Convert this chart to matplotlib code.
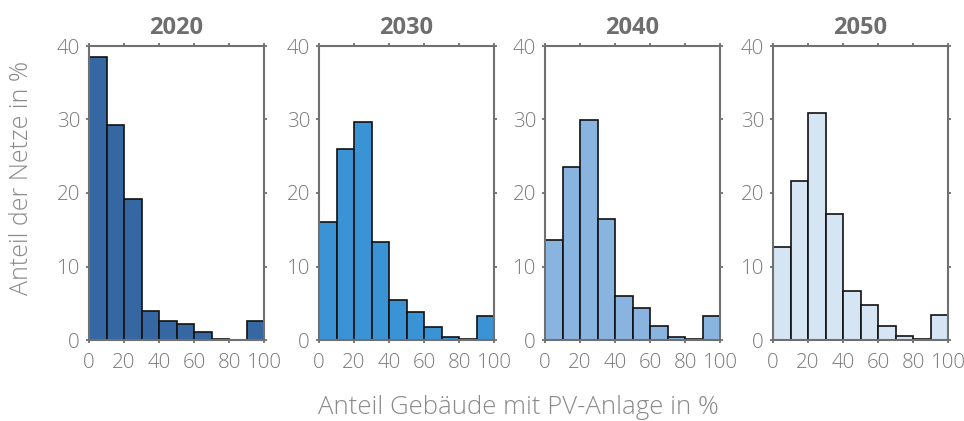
import numpy as np
import matplotlib.pyplot as plt

plt.rcParams['font.family'] = ['Open Sans', 'DejaVu Sans']

# bin edges of the histograms (Anteil Gebäude mit PV-Anlage in %)
bin_edges = np.arange(0, 101, 10)

years = ['2020', '2030', '2040', '2050']
share_2020 = [38.5, 29.2, 19.2, 4.0, 2.6, 2.2, 1.1, 0.2, 0.0, 2.6]
share_2030 = [16.0, 26.0, 29.6, 13.3, 5.5, 3.8, 1.8, 0.45, 0.2, 3.2]
share_2040 = [13.6, 23.5, 29.9, 16.5, 6.0, 4.3, 1.95, 0.45, 0.2, 3.3]
share_2050 = [12.6, 21.7, 30.9, 17.1, 6.6, 4.7, 1.95, 0.6, 0.2, 3.4]
shares = [share_2020, share_2030, share_2040, share_2050]
colors = ['#3568a3', '#3a93d5', '#8ab4e0', '#d5e5f4']

W, H = 964, 421
fig = plt.figure(figsize=(W / 100, H / 100), dpi=100)

lefts = [89, 319, 545, 773]
ax_w, ax_top, ax_bot = 175, 46, 340

spine_col = '#707070'
tick_col = '#7a7a7a'

for i, left in enumerate(lefts):
    ax = fig.add_axes([left / W, 1 - ax_bot / H, ax_w / W, (ax_bot - ax_top) / H])
    ax.bar(bin_edges[:-1], shares[i], width=np.diff(bin_edges), align='edge',
           color=colors[i], edgecolor='#111111', linewidth=1.2)
    ax.set_xlim(0, 100)
    ax.set_ylim(0, 40)
    ax.set_xticks([0, 20, 40, 60, 80, 100])
    ax.set_yticks([0, 10, 20, 30, 40])
    ax.tick_params(axis='both', direction='out', length=2.5, width=1.3,
                   colors=spine_col, labelcolor=tick_col, labelsize=14.8, pad=4,
                   top=True, right=True)
    ax.tick_params(axis='x', pad=7)
    for lab in ax.get_xticklabels() + ax.get_yticklabels():
        lab.set_fontweight('light')
    for s in ax.spines.values():
        s.set_color(spine_col)
        s.set_linewidth(1.5)
    ax.set_title(years[i], fontsize=17, fontweight='bold', color='#6e6e6e', pad=9)

fig.text(22 / W, 1 - 178 / H, 'Anteil der Netze in %', rotation=90, ha='center', va='center',
         fontsize=18, color='#8a8a8a', fontweight='light')
fig.text(518 / W, 1 - 408 / H, 'Anteil Gebäude mit PV-Anlage in %', ha='center', va='center',
         fontsize=18.5, color='#8a8a8a', fontweight='light')

fig.savefig('out.png', dpi=100)
